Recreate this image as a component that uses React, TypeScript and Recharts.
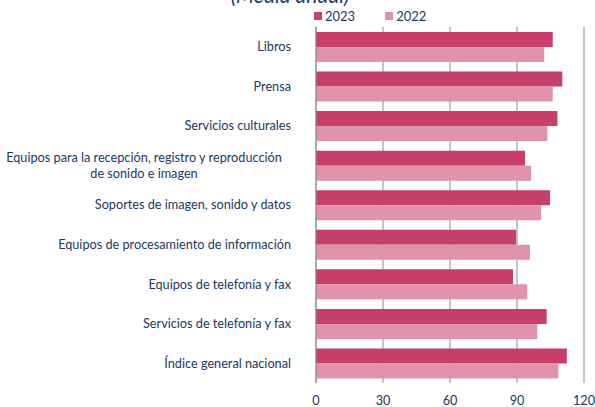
import { BarChart, Bar, XAxis, YAxis, CartesianGrid } from 'recharts';

const categories = [
  'Libros',
  'Prensa',
  'Servicios culturales ',
  'Equipos para la recepción, registro y reproducción\nde sonido e imagen',
  'Soportes de imagen, sonido y datos',
  'Equipos de procesamiento de información',
  'Equipos de telefonía y fax',
  'Servicios de telefonía y fax',
  'Índice general nacional',
];
const values2023 = [106.0, 110.3, 108.1, 93.6, 104.8, 89.6, 88.2, 103.3, 112.3];
const values2022 = [102.2, 106.0, 103.6, 96.3, 100.8, 95.8, 94.6, 99.1, 108.5];
const xTicks = [0, 30, 60, 90, 120];
const seriesNames = ['2023', '2022'];

const data = categories.map((name, i) => ({ name, y2023: values2023[i], y2022: values2022[i] }));

const NAVY = '#203864';
const FONT = 'Lato, "Open Sans", sans-serif';
const C2023 = '#c8406a';
const C2022 = '#e093aa';

function CategoryTick({ x, y, payload }: any) {
  const lines = String(payload.value).split('\n');
  if (lines.length === 1) {
    return (
      <text x={x} y={y} dy="0.35em" textAnchor="end" fill={NAVY} fontSize={12.7} fontFamily={FONT}>
        {lines[0]}
      </text>
    );
  }
  // wrapped label: lines centred on each other, block pulled back from the axis
  const blockWidth = Math.max(...lines.map((l) => l.length)) * 5.4;
  const cx = x - 12 - blockWidth / 2;
  const lineH = 16;
  const top = y - ((lines.length - 1) * lineH) / 2;
  return (
    <text textAnchor="middle" fill={NAVY} fontSize={12.7} fontFamily={FONT}>
      {lines.map((l, i) => (
        <tspan key={i} x={cx} y={top + i * lineH} dy="0.35em">
          {l}
        </tspan>
      ))}
    </text>
  );
}

export default function App() {
  const colors = [C2023, C2022];
  return (
    <div style={{ position: 'absolute', top: 0, left: 0, width: 595, height: 407, overflow: 'hidden', background: '#fff' }}>
      <div
        style={{
          position: 'absolute',
          top: -17,
          left: 0,
          width: 580,
          textAlign: 'center',
          fontFamily: FONT,
          fontStyle: 'italic',
          fontSize: 21,
          lineHeight: '24px',
          color: NAVY,
        }}
      >
        (Media anual)
      </div>
      <div
        style={{
          position: 'absolute',
          top: 8,
          left: 314,
          display: 'flex',
          gap: 30,
          fontFamily: FONT,
          fontSize: 13,
          color: NAVY,
          zIndex: 1,
        }}
      >
        {seriesNames.map((s, i) => (
          <div key={s} style={{ display: 'flex', alignItems: 'center', gap: 3 }}>
            <span style={{ width: 8, height: 8, background: colors[i], display: 'inline-block' }} />
            <span>{s}</span>
          </div>
        ))}
      </div>
      <BarChart
        width={595}
        height={407}
        data={data}
        layout="vertical"
        margin={{ top: 27, right: 11, bottom: 0, left: 0 }}
        barGap={0}
        barSize={15}
      >
        <CartesianGrid horizontal={false} stroke="#8c8c8c" />
        <XAxis
          type="number"
          domain={[0, 120]}
          ticks={xTicks}
          axisLine={false}
          tickLine={false}
          tickSize={0}
          tickMargin={13}
          height={24}
          tick={{ fill: NAVY, fontSize: 12.7, fontFamily: FONT }}
        />
        <YAxis
          type="category"
          dataKey="name"
          width={316}
          axisLine={{ stroke: '#8c8c8c' }}
          tickLine={false}
          tickSize={0}
          tickMargin={25}
          interval={0}
          tick={<CategoryTick />}
        />
        <Bar dataKey="y2023" name="2023" fill={C2023} isAnimationActive={false} />
        <Bar dataKey="y2022" name="2022" fill={C2022} isAnimationActive={false} />
      </BarChart>
    </div>
  );
}
